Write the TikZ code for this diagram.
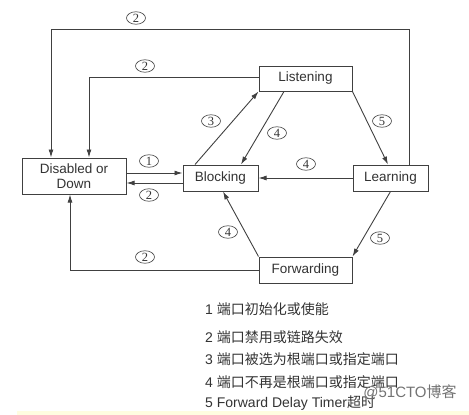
\documentclass[tikz,border=0pt]{standalone}
\usepackage{fontspec}
\setmainfont{Liberation Sans}
\newfontfamily\cjk{Noto Sans CJK SC}
\newfontfamily\numfont{Liberation Serif}
\usepackage{tikz}
\usetikzlibrary{shapes.geometric,arrows.meta}

\begin{document}
\begin{tikzpicture}[
	x = 1pt, y = -1pt,
	every node/.style = {inner sep = 0pt, text = black!80},
	state/.style = {draw = black!75, line width = 1pt, fill = white, minimum height = 26pt,
		font = \fontsize{13.5}{15}\selectfont},
	num/.style = {draw = black!75, ellipse, line width = 0.6pt, minimum width = 19pt, minimum height = 12.5pt,
		font = \numfont\fontsize{12.5}{12.5}\selectfont},
	legend/.style = {anchor = west, font = \fontsize{14}{15}\selectfont},
	link/.style = {draw = black!75, line width = 0.9pt, -{Latex[length = 8pt, width = 5pt]}}
	]
	\useasboundingbox (0,0) rectangle (469,415);
	\fill[yellow!12] (17,411) rectangle (469,415);

	% states
	\node[state, minimum width = 104pt, minimum height = 36pt, align = center] (dis) at (74,176) {Disabled or\\Down};
	\node[state, minimum width = 75pt] (blk) at (220.5,178) {Blocking};
	\node[state, minimum width = 93pt, minimum height = 25pt] (lis) at (305.5,78.5) {Listening};
	\node[state, minimum width = 75pt] (lrn) at (390.5,178) {Learning};
	\node[state, minimum width = 93pt] (fwd) at (305.5,270) {Forwarding};

	% routing points
	\coordinate (top1) at (409,29);
	\coordinate (top2) at (51,29);
	\coordinate (mid2) at (89,77);
	\coordinate (in1) at ([yshift = 5pt]blk.west);
	\coordinate (out2) at ([yshift = -5pt]blk.west);

	% transitions
	\draw[link] (lrn.north -| top1) -- (top1) -- (top2) -- (dis.north -| top2);
	\draw[link] (lis.west |- mid2) -| (dis.north -| mid2);
	\draw[link] (dis.east |- in1) -- (in1);
	\draw[link] (out2) -- (dis.east |- out2);
	\draw[link] ([xshift = -25.5pt]blk.north) -- (lis.south west);
	\draw[link] ([xshift = -21.5pt]lis.south) -- ([xshift = 20.5pt]blk.north);
	\draw[link] (lis.south east) -- ([xshift = -2.5pt]lrn.north);
	\draw[link] (lrn.west) -- (blk.east);
	\draw[link] (lrn.south) -- (fwd.north east);
	\draw[link] (fwd.north west) -- ([xshift = 2.5pt]blk.south);
	\draw[link] (fwd.west) -| ([xshift = -4pt]dis.south);

	% labels
	\node[num] (n2a) at (136,18) {2};
	\node[num] (n2b) at (145,66) {2};
	\node[num] (n1) at (149,161) {1};
	\node[num] (n2c) at (149,195) {2};
	\node[num] (n3) at (211,121) {3};
	\node[num] (n4a) at (277,133) {4};
	\node[num] (n5a) at (382,121) {5};
	\node[num] (n4b) at (306,164) {4};
	\node[num] (n5b) at (380,238) {5};
	\node[num] (n4c) at (228,232) {4};
	\node[num] (n2d) at (145,257) {2};

	% legend
	\node[legend] (l1) at (205,309) {1 {\cjk 端口初始化或使能}};
	\node[legend] (l2) at (205,337) {2 {\cjk 端口禁用或链路失效}};
	\node[legend] (l3) at (205,359) {3 {\cjk 端口被选为根端口或指定端口}};
	\node[legend] (l4) at (205,382) {4 {\cjk 端口不再是根端口或指定端口}};
	\node[legend] (l5) at (205,403) {5 Forward Delay Timer{\cjk 超时}};
	\node[font = \fontsize{15}{15}\selectfont, text = black!55] (wm) at (410,392) {@51CTO{\cjk 博客}};
\end{tikzpicture}
\end{document}
